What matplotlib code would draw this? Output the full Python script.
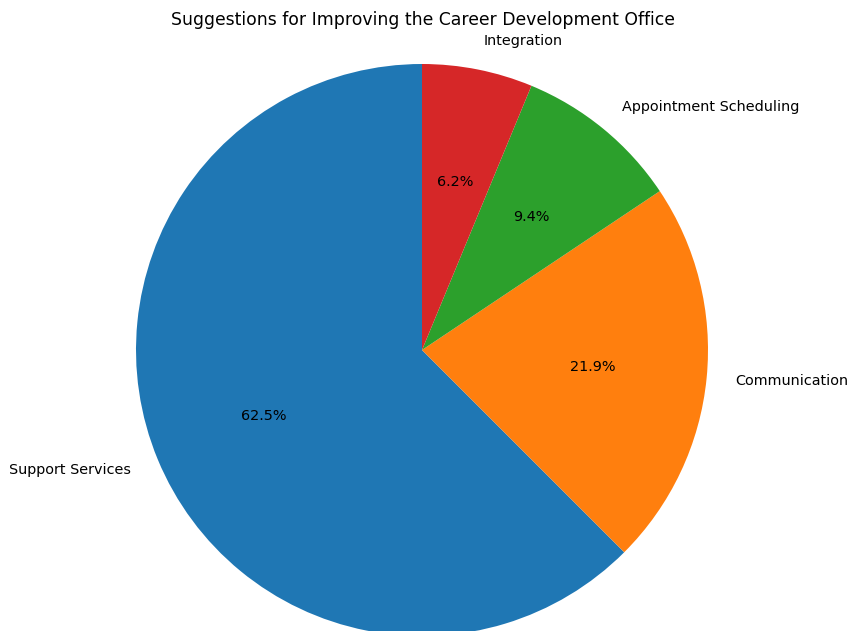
import matplotlib
matplotlib.use("Agg")
import matplotlib.pyplot as plt

categories = ["Support Services", "Communication", "Appointment Scheduling", "Integration"]
counts = [20, 7, 3, 2]
colors = ["#1f77b4", "#ff7f0e", "#2ca02c", "#d62728"]

fig = plt.figure(figsize=(8.49, 6.31), dpi=100)
ax = fig.add_axes([0, 0, 1, 1])

ax.pie(counts, labels=categories, colors=colors, autopct="%1.1f%%",
       startangle=90, textprops={"fontsize": 10.4})

# place the pie: center at (422, 350) px, radius 286 px
scale = 286.0
ax.set_xlim(-422 / scale, (849 - 422) / scale)
ax.set_ylim(-(631 - 350) / scale, 350 / scale)
ax.set_aspect("equal", adjustable="box")

fig.text(423 / 849, 1 - 20 / 631, "Suggestions for Improving the Career Development Office",
         ha="center", va="center", fontsize=12.4)

fig.savefig("out.png", dpi=100)
